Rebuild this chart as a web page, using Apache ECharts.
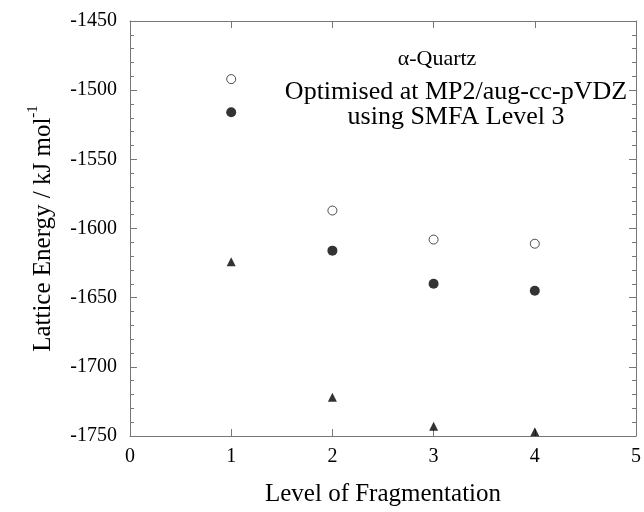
<!DOCTYPE html>
<html>
<head>
<meta charset="utf-8">
<script src="https://cdn.jsdelivr.net/npm/echarts@6/dist/echarts.min.js"></script>
<style>html,body{margin:0;padding:0;background:#fff;}#c{width:644px;height:512px;}</style>
</head>
<body>
<div id="c"></div>
<script>
var levels = [1, 2, 3, 4];
var mp2Open = [-1492, -1587, -1608, -1611];
var mp2Filled = [-1516, -1616, -1640, -1645];
var triVals = [-1624, -1722, -1743, -1747];
var xTicks = [0, 1, 2, 3, 4, 5];
var yTicks = [-1750, -1700, -1650, -1600, -1550, -1500, -1450];
var annotLines = ['\u03b1-Quartz', 'Optimised at MP2/aug-cc-pVDZ', 'using SMFA Level 3'];

function pairs(xs, ys) { return xs.map(function (x, i) { return [x, ys[i]]; }); }

var FONT = '"Liberation Serif", "Times New Roman", serif';
var AX = '#777';
var chart = echarts.init(document.getElementById('c'), null, {renderer: 'canvas'});

function xAx(pos, showLabels) {
  return {
    type: 'value', position: pos, min: xTicks[0], max: xTicks[xTicks.length - 1], interval: 1,
    name: showLabels ? 'Level of Fragmentation' : '',
    nameLocation: 'middle', nameGap: 46,
    nameTextStyle: {fontFamily: FONT, fontSize: 25, color: '#000'},
    axisLine: {show: true, onZero: false, lineStyle: {color: AX, width: 1}},
    axisTick: {show: true, inside: true, length: 7, lineStyle: {color: AX}},
    axisLabel: {show: showLabels, fontFamily: FONT, fontSize: 20, color: '#000', margin: 11,
      formatter: function (v) { return String(v); }},
    splitLine: {show: false}
  };
}
function yAx(pos, showLabels) {
  return {
    type: 'value', position: pos, min: yTicks[0], max: yTicks[yTicks.length - 1], interval: 50,
    name: showLabels ? '{a|Lattice Energy / kJ mol}{s|-1}' : '',
    nameLocation: 'middle', nameGap: 74, nameRotate: 90,
    nameTextStyle: {
      fontFamily: FONT, fontSize: 25, color: '#000',
      rich: {
        a: {fontFamily: FONT, fontSize: 25, color: '#000', verticalAlign: 'bottom', lineHeight: 30},
        s: {fontFamily: FONT, fontSize: 15, color: '#000', verticalAlign: 'top', lineHeight: 30}
      }
    },
    axisLine: {show: true, onZero: false, lineStyle: {color: AX, width: 1}},
    axisTick: {show: true, inside: true, length: 7, lineStyle: {color: AX}},
    minorTick: {show: true, splitNumber: 5, length: 4, lineStyle: {color: AX}},
    axisLabel: {show: showLabels, fontFamily: FONT, fontSize: 20, color: '#000', margin: 13,
      formatter: function (v) { return String(v); }},
    splitLine: {show: false}
  };
}

chart.setOption({
  animation: false,
  backgroundColor: '#fff',
  grid: {left: 130, right: 5, top: 21, bottom: 73, containLabel: false},
  xAxis: [xAx('bottom', true), xAx('top', false)],
  yAxis: [yAx('left', true), yAx('right', false)],
  series: [
    {type: 'scatter', xAxisIndex: 0, yAxisIndex: 0, symbol: 'circle', symbolSize: 9,
     itemStyle: {color: '#fff', borderColor: '#222', borderWidth: 1}, data: pairs(levels, mp2Open)},
    {type: 'scatter', xAxisIndex: 0, yAxisIndex: 0, symbol: 'circle', symbolSize: 10,
     itemStyle: {color: '#000'}, data: pairs(levels, mp2Filled)},
    {type: 'scatter', xAxisIndex: 0, yAxisIndex: 0, symbol: 'triangle', symbolSize: 9,
     itemStyle: {color: '#000'}, data: pairs(levels, triVals)}
  ],
  graphic: [
    {type: 'text', x: 437, y: 48, style: {text: annotLines[0], font: '22px ' + FONT, fill: '#000', textAlign: 'center', textVerticalAlign: 'top'}},
    {type: 'text', x: 456, y: 79, style: {text: annotLines[1], font: '26px ' + FONT, fill: '#000', textAlign: 'center', textVerticalAlign: 'top'}},
    {type: 'text', x: 456, y: 104, style: {text: annotLines[2], font: '26px ' + FONT, fill: '#000', textAlign: 'center', textVerticalAlign: 'top'}}
  ]
});
</script>
</body>
</html>
